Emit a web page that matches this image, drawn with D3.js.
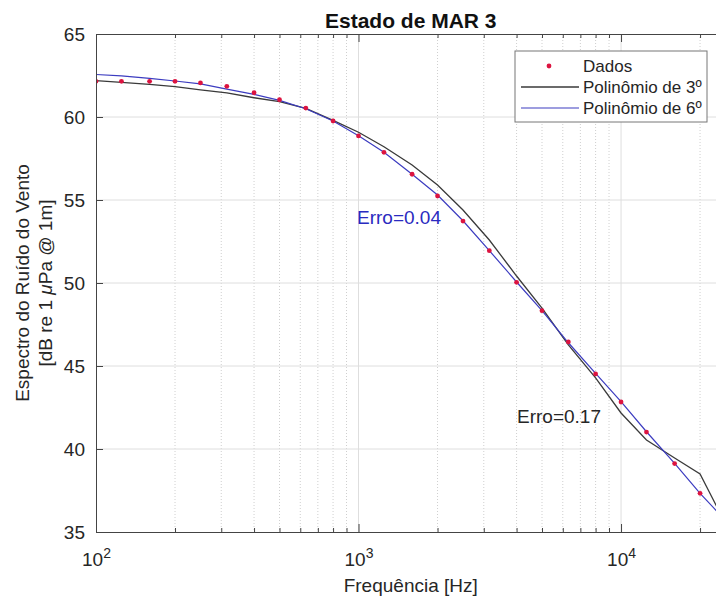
<!DOCTYPE html>
<html>
<head>
<meta charset="utf-8">
<script src="https://cdn.jsdelivr.net/npm/d3@7"></script>
<style>
  body { margin: 0; background: #fff; }
  svg { display: block; font-family: "Liberation Sans", Arial, sans-serif; }
</style>
</head>
<body>
<div id="chart"></div>
<script>
// 1/3 octave bands
var freqs = [100, 125, 160, 200, 250, 315, 400, 500, 630, 800, 1000, 1250, 1600, 2000,
  2500, 3150, 4000, 5000, 6300, 8000, 10000, 12500, 16000, 20000];
var dados = [62.15, 62.15, 62.15, 62.15, 62.05, 61.85, 61.46, 61.04, 60.54, 59.76, 58.86, 57.87,
  56.55, 55.24, 53.73, 51.95, 50.04, 48.33, 46.45, 44.52, 42.83, 41.02, 39.12, 37.33];

var fitFreqs = [100, 125, 160, 200, 250, 315, 400, 500, 630, 800, 1000, 1250, 1600, 2000,
  2500, 3150, 4000, 5000, 6300, 8000, 10000, 12500, 16000, 20000, 25000];
var poly3 = [62.19, 62.09, 61.97, 61.83, 61.63, 61.45, 61.16, 60.92, 60.52, 59.80, 59.08, 58.21,
  57.11, 55.90, 54.40, 52.59, 50.42, 48.49, 46.27, 44.28, 42.17, 40.54, 39.46, 38.49, 35.5];
var poly6 = [62.56, 62.48, 62.33, 62.17, 61.99, 61.68, 61.36, 61.00, 60.50, 59.76, 58.87, 57.87,
  56.55, 55.30, 53.75, 51.95, 50.06, 48.33, 46.40, 44.56, 42.85, 41.04, 39.14, 37.33, 35.7];

var yTicks = [35, 40, 45, 50, 55, 60, 65];
var xMajor = [100, 1000, 10000];
var xMinor = [200, 300, 400, 500, 600, 700, 800, 900, 2000, 3000, 4000, 5000, 6000, 7000, 8000, 9000, 20000];
var legendNames = ["Dados", "Polinômio de 3º", "Polinômio de 6º"];

var width = 716, height = 601;
var plotLeft = 96, plotRight = 725.5, plotTop = 34, plotBottom = 532;
var axisColor = "#444", textColor = "#262626";
var red = "#dc1440", black = "#3a3a3a", blue = "#3c3cc0";

var svg = d3.select("#chart").append("svg")
  .attr("width", width)
  .attr("height", height);

var x = d3.scaleLog().domain([100, 25000]).range([plotLeft, plotRight]);
var y = d3.scaleLinear().domain([35, 65]).range([plotBottom, plotTop]);

svg.append("clipPath").attr("id", "plotClip")
  .append("rect")
  .attr("x", plotLeft).attr("y", plotTop)
  .attr("width", plotRight - plotLeft).attr("height", plotBottom - plotTop);

// grid
var grid = svg.append("g");
grid.selectAll(".minorGrid").data(xMinor).enter().append("line")
  .attr("x1", function(d) { return x(d); })
  .attr("x2", function(d) { return x(d); })
  .attr("y1", plotTop).attr("y2", plotBottom)
  .style("stroke", "#cfcfcf")
  .style("stroke-dasharray", "1,2");
grid.selectAll(".majorX").data(xMajor.slice(1)).enter().append("line")
  .attr("x1", function(d) { return x(d); })
  .attr("x2", function(d) { return x(d); })
  .attr("y1", plotTop).attr("y2", plotBottom)
  .style("stroke", "#dedede");
grid.selectAll(".majorY").data(yTicks.slice(1, -1)).enter().append("line")
  .attr("x1", plotLeft).attr("x2", plotRight)
  .attr("y1", function(d) { return y(d); })
  .attr("y2", function(d) { return y(d); })
  .style("stroke", "#dedede");

// curves
var plot = svg.append("g").attr("clip-path", "url(#plotClip)");
var line = d3.line()
  .x(function(d) { return x(d[0]); })
  .y(function(d) { return y(d[1]); });

plot.append("path")
  .datum(d3.zip(fitFreqs, poly3))
  .attr("d", line)
  .style("fill", "none").style("stroke", black).style("stroke-width", 1.3);

plot.append("path")
  .datum(d3.zip(fitFreqs, poly6))
  .attr("d", line)
  .style("fill", "none").style("stroke", blue).style("stroke-width", 1.2);

plot.selectAll(".dado").data(d3.zip(freqs, dados)).enter().append("circle")
  .attr("class", "dado")
  .attr("cx", function(d) { return x(d[0]); })
  .attr("cy", function(d) { return y(d[1]); })
  .attr("r", 2.4)
  .style("fill", red);

// axes
function styleAxis(g) {
  g.selectAll("path").style("stroke", axisColor);
  g.selectAll("line").style("stroke", axisColor);
  g.selectAll("text").style("fill", textColor).style("font-size", "19px")
    .style("font-family", "'Liberation Sans', Arial, sans-serif");
}

var xAxis = svg.append("g")
  .attr("transform", "translate(0," + plotBottom + ")")
  .call(d3.axisBottom(x).tickValues(xMajor).tickSizeInner(-8).tickSizeOuter(0)
    .tickFormat(function() { return ""; }))
  .call(styleAxis);

xAxis.selectAll(".tick text").each(function(d) {
  var t = d3.select(this);
  t.attr("y", 34).attr("dy", null);
  t.append("tspan").text("10");
  t.append("tspan").text(Math.round(Math.log10(d)))
    .attr("dy", "-0.55em").style("font-size", "14px");
});

svg.append("g")
  .attr("transform", "translate(0," + plotBottom + ")")
  .call(d3.axisBottom(x).tickValues(xMinor).tickSizeInner(-4).tickSizeOuter(0).tickFormat(""))
  .call(styleAxis)
  .select(".domain").remove();

svg.append("g")
  .attr("transform", "translate(0," + plotTop + ")")
  .call(d3.axisTop(x).tickValues(xMajor).tickSizeInner(-8).tickSizeOuter(0).tickFormat(""))
  .call(styleAxis);
svg.append("g")
  .attr("transform", "translate(0," + plotTop + ")")
  .call(d3.axisTop(x).tickValues(xMinor).tickSizeInner(-4).tickSizeOuter(0).tickFormat(""))
  .call(styleAxis)
  .select(".domain").remove();

svg.append("g")
  .attr("transform", "translate(" + plotLeft + ",0)")
  .call(d3.axisLeft(y).tickValues(yTicks).tickSizeInner(-7).tickSizeOuter(0).tickPadding(11))
  .call(styleAxis);

// titles
svg.append("text")
  .attr("x", (plotLeft + plotRight) / 2).attr("y", 28)
  .attr("text-anchor", "middle")
  .style("font-size", "21px").style("font-weight", "bold").style("fill", "#111")
  .text("Estado de MAR 3");

svg.append("text")
  .attr("x", (plotLeft + plotRight) / 2).attr("y", 592)
  .attr("text-anchor", "middle")
  .style("font-size", "19px").style("fill", textColor)
  .text("Frequência [Hz]");

var yLabel = svg.append("text")
  .attr("transform", "translate(29," + ((plotTop + plotBottom) / 2) + ") rotate(-90)")
  .attr("text-anchor", "middle")
  .style("font-size", "19px").style("fill", textColor);
yLabel.append("tspan").attr("x", 0).attr("y", 0).text("Espectro do Ruído do Vento");
var l2 = yLabel.append("tspan").attr("x", 0).attr("y", 23);
l2.append("tspan").text("[dB re 1 ");
l2.append("tspan").style("font-style", "italic").text("μ");
l2.append("tspan").text("Pa @ 1m]");

// annotations
svg.append("text").attr("x", 357).attr("y", 224)
  .style("font-size", "19px").style("fill", "#2a2ac0")
  .text("Erro=0.04");
svg.append("text").attr("x", 517).attr("y", 423)
  .style("font-size", "19px").style("fill", textColor)
  .text("Erro=0.17");

// legend
var legend = svg.append("g");
legend.append("rect")
  .attr("x", 515).attr("y", 51).attr("width", 192).attr("height", 71)
  .style("fill", "#fff").style("stroke", "#777");

var rowY = d3.scalePoint().domain(legendNames).range([66, 108]);
legend.append("circle")
  .attr("cx", 549).attr("cy", rowY(legendNames[0])).attr("r", 2.4)
  .style("fill", red);
legend.append("line")
  .attr("x1", 521).attr("x2", 579)
  .attr("y1", rowY(legendNames[1])).attr("y2", rowY(legendNames[1]))
  .style("stroke", black).style("stroke-width", 1.3);
legend.append("line")
  .attr("x1", 521).attr("x2", 579)
  .attr("y1", rowY(legendNames[2])).attr("y2", rowY(legendNames[2]))
  .style("stroke", blue).style("stroke-width", 1.2);
legend.selectAll(".legText").data(legendNames).enter().append("text")
  .attr("x", 583)
  .attr("y", function(d) { return rowY(d); })
  .attr("dy", "0.35em")
  .style("font-size", "17px").style("fill", textColor)
  .text(function(d) { return d; });
</script>
</body>
</html>
